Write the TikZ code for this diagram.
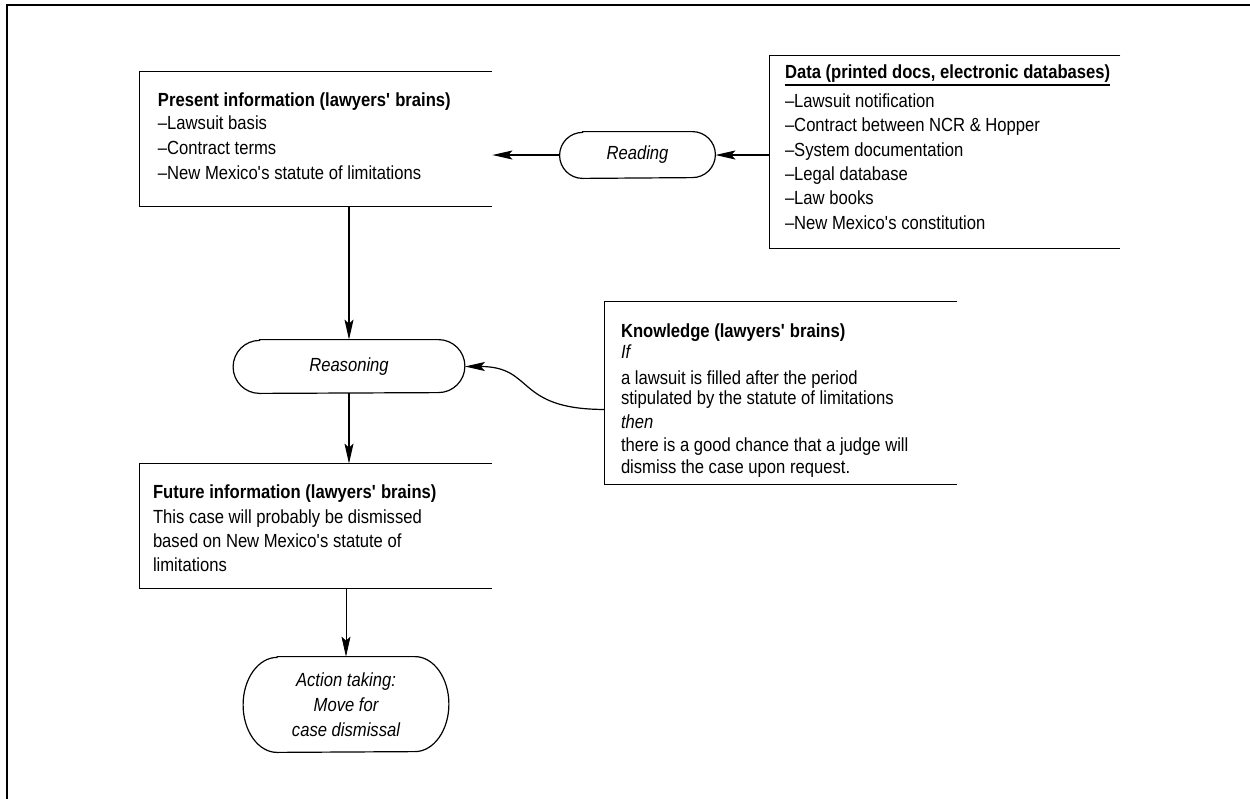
\documentclass[tikz,border=0pt]{standalone}
\usepackage{fontspec}
\setmainfont{Liberation Sans}[FakeStretch=0.875]
\usetikzlibrary{arrows.meta,calc}

% left-inset paragraph block: total width, left inset, space above, space below, text
\newcommand\boxtext[5]{\makebox[#1][l]{\hspace*{#2}\parbox[c]{\dimexpr#1-#2\relax}{\raggedright
  \vspace*{#3}#5\par\vspace*{#4}}}}
% bold heading with a heavy underline
\newcommand\ulbold[1]{\leavevmode\setbox0\hbox{\textbf{#1}}\copy0\llap{\rule[-3.7pt]{\wd0}{0.9pt}}}
\newcommand\apos{\textquotesingle}
% store outline: open on the right side
\newcommand\openbox[1]{\draw[boxline] (#1.north east) -- (#1.north west) -- (#1.south west) -- (#1.south east);}
% process outline: flat top and bottom, elliptic ends
\newcommand\capsule[3]{\draw[boxline] ($(#1.north west)+(#2,0)$) -- ($(#1.north east)+(-#2,0)$)
  arc[start angle=90,end angle=-90,x radius=#2,y radius=#3] -- ($(#1.south west)+(#2,0)$)
  arc[start angle=270,end angle=90,x radius=#2,y radius=#3] -- cycle;}

\tikzset{
  every node/.style={font=\fontsize{9.5pt}{12.25pt}\selectfont},
  frame/.style={line width=0.9pt},
  boxline/.style={line width=0.6pt},
  conn/.style={line width=0.6pt,-{Stealth[length=10pt,width=4.5pt,inset=2pt]}},
  thinconn/.style={conn,line width=0.35pt},
  store/.style={inner sep=0pt},
  proc/.style={inner sep=0pt,font=\fontsize{9.5pt}{12.5pt}\selectfont\itshape,align=center},
}

\begin{document}
\begin{tikzpicture}[x=0.5pt,y=-0.5pt]
\useasboundingbox (0,0) rectangle (1250,799);
\draw[frame] (7,800) -- (7,5) -- (1251,5);

% information stores
\node[store,minimum width=176pt,minimum height=67pt] (present) at (316,139)
  {\boxtext{176pt}{9pt}{0pt}{2.5pt}{\fontsize{9.5pt}{12.5pt}\selectfont
   \textbf{Present information (lawyers\apos{} brains)}\\[-1pt]
   –Lawsuit basis\\–Contract terms\\–New Mexico\apos{}s statute of limitations}};
\openbox{present}

\node[store,minimum width=175pt,minimum height=96pt] (data) at (945,152)
  {\boxtext{175pt}{7.5pt}{0pt}{5pt}{\fontsize{9.5pt}{12.15pt}\selectfont
   \ulbold{Data (printed docs, electronic databases)}\\[2.35pt]
   –Lawsuit notification\\–Contract between NCR \& Hopper\\–System documentation\\
   –Legal database\\–Law books\\–New Mexico\apos{}s constitution}};
\openbox{data}

\node[store,minimum width=176pt,minimum height=91pt] (know) at (781,393)
  {\boxtext{176pt}{8pt}{8pt}{0pt}{\fontsize{9.5pt}{12pt}\selectfont
   \textbf{Knowledge (lawyers\apos{} brains)}\\[-1.5pt]
   \textit{If}\\[1pt]a lawsuit is filled after the period\\[-2pt]
   stipulated by the statute of limitations\\\textit{then}\\[-0.5pt]
   there is a good chance that a judge will\\[-1pt]dismiss the case upon request.}};
\openbox{know}

\node[store,minimum width=176pt,minimum height=62pt] (future) at (316,526)
  {\boxtext{176pt}{6.5pt}{2.5pt}{0pt}{\fontsize{9.5pt}{12.15pt}\selectfont
   \textbf{Future information (lawyers\apos{} brains)}\\
   This case will probably be dismissed\\based on New Mexico\apos{}s statute of\\limitations}};
\openbox{future}

% processes
\node[proc,minimum width=77.5pt,minimum height=23pt] (reading) at (637.5,155) {Reading};
\capsule{reading}{11.5pt}{11.5pt}
\node[proc,minimum width=115.5pt,minimum height=26.5pt] (reason) at (349,366.5) {Reasoning};
\capsule{reason}{13.25pt}{13.25pt}
\node[proc,minimum width=102.5pt,minimum height=47.5pt] (action) at (346,704.5)
  {Action taking:\\Move for\\case dismissal};
\capsule{action}{17pt}{23.75pt}

% flows
\draw[conn] (data.west |- reading.east) -- (reading.east);
\draw[conn] (reading.west) -- (present.east |- reading.west);
\draw[conn] (present.south -| reason.north) -- (reason.north);
\draw[conn] (reason.south) -- (future.north -| reason.south);
\draw[thinconn] (future.south -| action.north) -- (action.north);
\draw[conn] ($(know.north west)!0.59!(know.south west)$)
  .. controls +(-45pt,0) and +(35pt,0) .. (reason.east);
\end{tikzpicture}
\end{document}
